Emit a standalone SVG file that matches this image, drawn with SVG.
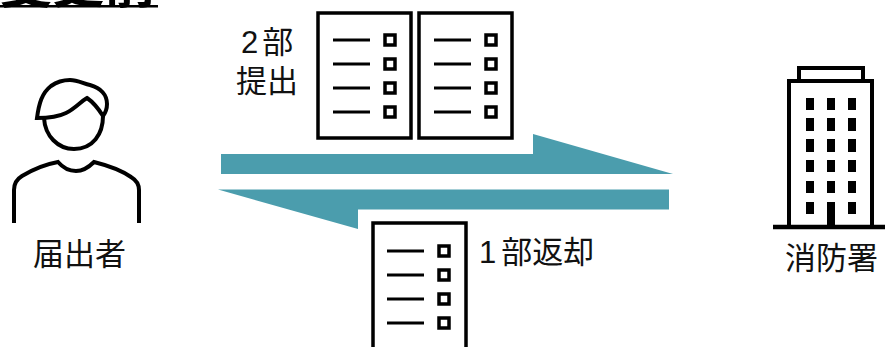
<svg xmlns="http://www.w3.org/2000/svg" width="885" height="347" viewBox="0 0 885 347">
<style>
.t{font-family:"Liberation Sans","Noto Sans CJK JP",sans-serif;font-size:31px;fill:#111}
.l{fill:none;stroke:#000;stroke-width:4}
.d{fill:#fff;stroke:#000;stroke-width:3.5}
.b{fill:none;stroke:#000;stroke-width:3}
.s{fill:#fff;stroke:#000;stroke-width:3.5}
.a{fill:#4b9dad}
</style>
<defs>
<g id="rows">
<path class="b" d="M15 27H52M15 51H52M15 75H52M15 99H52"/>
<path class="s" d="M67 22h10v10h-10zM67 46h10v10h-10zM67 70h10v10h-10zM67 94h10v10h-10z"/>
</g>
</defs>
<rect width="885" height="347" fill="#fff"/>
<g id="title"><text x="0" y="3" font-family="'Noto Sans CJK JP',sans-serif" font-size="52" font-weight="700" fill="#000">変更前</text><rect x="0" y="5" width="158" height="2.5"/></g>
<g id="connectors">
<path class="a" d="M221 154H533V134L673 174H221Z"/>
<path class="a" d="M669 189.500V209.500H358V229L218 189.500Z"/>
</g>
<g id="person">
<path class="l" d="M37 118C39 103 42 93 51 86C58 81 64 80 70 80C78 80 84 84 90 85C101 88 107 95 107 104C107 109 106 112 103 116C98 108 93 102 87 98C80 102 76 108 66 113C58 117 47 118 37 118Z"/>
<path class="l" d="M44 118C45 136 58 149 74 149C93 149 103 134 103 116"/>
<path class="l" d="M14 223V190C14 183 17 179 22 176C32 170 47 164 58 162C64 169 69 171 76 171C83 171 88 168 94 162C106 165 121 170 131 177C136 180 139 184 139 190V223"/>
<text class="t" x="33" y="265">届出者</text>
</g>
<g id="doc-a"><rect class="d" x="318" y="13" width="93" height="125"/><use href="#rows" x="318" y="13"/></g>
<g id="doc-b"><rect class="d" x="419" y="13" width="93" height="125"/><use href="#rows" x="419" y="13"/></g>
<g id="label-2"><text class="t" x="241" y="53">2<tspan dx="4">部</tspan></text><text class="t" x="236" y="92">提出</text></g>
<g id="doc-c"><path class="d" d="M373 347V223H466V347"/><use href="#rows" x="372" y="224"/></g>
<g id="label-1"><text class="t" x="479" y="263">1<tspan dx="5">部返却</tspan></text></g>
<g id="building">
<rect class="l" x="799" y="68" width="64" height="13"/>
<rect class="l" x="789" y="81" width="83" height="146"/>
<path d="M773 227H885" stroke="#000" stroke-width="4.500"/>
<path d="M806 98h8v12h-8zM827 98h8v12h-8zM848 98h8v12h-8zM806 118h8v13h-8zM827 118h8v13h-8zM848 118h8v13h-8zM806 139h8v13h-8zM827 139h8v13h-8zM848 139h8v13h-8zM806 160h8v12h-8zM827 160h8v12h-8zM848 160h8v12h-8zM806 181h8v12h-8zM827 181h8v12h-8zM848 181h8v12h-8zM806 202h8v12h-8zM848 202h8v12h-8zM827 202h8v25h-8z"/>
<text class="t" x="785" y="269">消防署</text>
</g>
</svg>
